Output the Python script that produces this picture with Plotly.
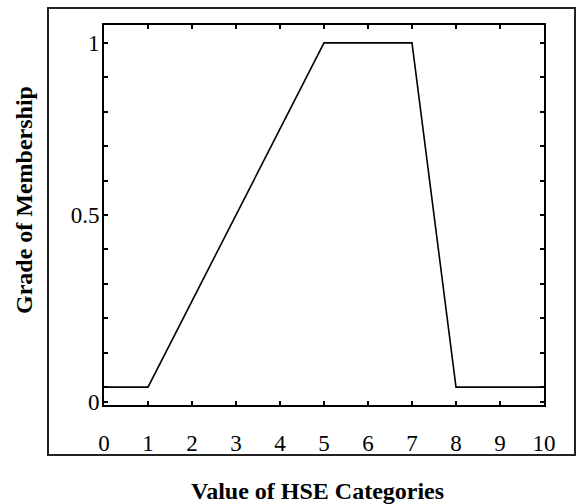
import plotly.graph_objects as go

# Data: trapezoidal membership function
x_values = [0, 1, 5, 7, 8, 10]
membership = [0, 0, 1, 1, 0, 0]

x_ticks = [0, 1, 2, 3, 4, 5, 6, 7, 8, 9, 10]
y_tick_vals = [-0.042, 0, 0.1, 0.2, 0.3, 0.4, 0.5, 0.6, 0.7, 0.8, 0.9, 1.0]
y_tick_text = ["0", "", "", "", "", "", "0.5", "", "", "", "", "1"]

x_title = "Value of HSE Categories"
y_title = "Grade of Membership"

W, H = 577, 504
L, R, T, B = 104, 33, 25, 99
pw, ph = W - L - R, H - T - B

def px_x(p):
    return (p - L) / pw

def px_y(p):
    return (H - B - p) / ph

FONT = "Liberation Serif, Times New Roman, serif"

fig = go.Figure()
fig.add_trace(go.Scatter(
    x=x_values, y=membership, mode="lines",
    line=dict(color="black", width=1.6),
    showlegend=False, hoverinfo="skip",
))

fig.update_layout(
    width=W, height=H,
    margin=dict(l=L, r=R, t=T, b=B, autoexpand=False),
    paper_bgcolor="white", plot_bgcolor="white",
    font=dict(family=FONT, color="black", size=23),
    shapes=[dict(
        type="rect", xref="paper", yref="paper",
        x0=px_x(48), x1=px_x(575), y0=px_y(455), y1=px_y(8),
        line=dict(color="#222", width=2), layer="below",
    )],
    annotations=[
        dict(text=f"<b>{x_title}</b>", xref="paper", yref="paper",
             x=px_x(317), y=px_y(491), xanchor="center", yanchor="middle",
             showarrow=False, font=dict(size=24, family=FONT)),
        dict(text=f"<b>{y_title}</b>", xref="paper", yref="paper",
             x=px_x(24), y=px_y(200), xanchor="center", yanchor="middle",
             textangle=-90, showarrow=False, font=dict(size=24, family=FONT)),
    ],
)

fig.update_xaxes(
    range=[0, 10], tickvals=x_ticks, ticktext=[str(v) for v in x_ticks],
    ticks="inside", ticklen=4, tickwidth=2, tickcolor="black",
    showline=True, linecolor="black", linewidth=2, mirror="allticks",
    showgrid=False, zeroline=False, ticklabelstandoff=16,
    tickfont=dict(size=23, family=FONT),
    automargin=False,
)
fig.update_yaxes(
    range=[-0.052, 1.052], tickvals=y_tick_vals, ticktext=y_tick_text,
    ticks="inside", ticklen=4, tickwidth=2, tickcolor="black",
    showline=True, linecolor="black", linewidth=2, mirror="allticks",
    showgrid=False, zeroline=False, ticklabelstandoff=-2,
    tickfont=dict(size=23, family=FONT),
    automargin=False,
)

fig.write_html("out.html", config={"displayModeBar": False},
               post_script="document.body.style.margin='0';")
